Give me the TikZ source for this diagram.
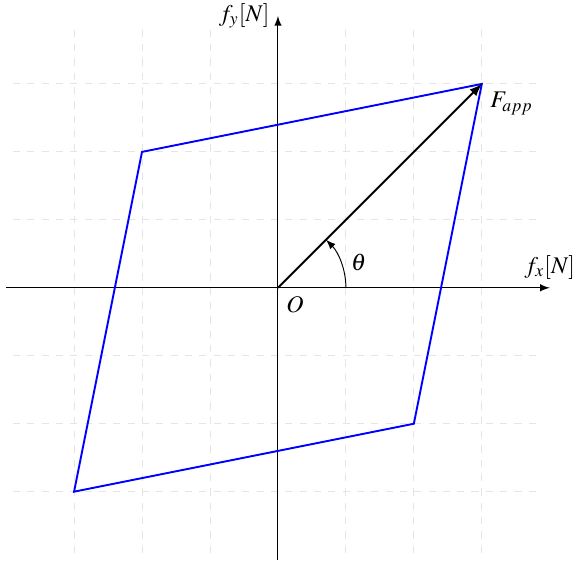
\documentclass[tikz,border=0pt]{standalone}
\usepackage{mathptmx}
\begin{document}
\begin{tikzpicture}[x=1cm,y=1cm,
  gridline/.style={gray!20, dashed},
  axisline/.style={black, -latex},
  polyline/.style={blue, thick, line join=miter},
  vecline/.style={black, thick, -latex},
  anglearc/.style={black, thin, -latex}]
\useasboundingbox (-4.09,-4.04) rectangle (4.43,4.235);
\draw[gridline] (-3.9,-3.9) grid (3.9,3.9);
\coordinate (O) at (0,0);
\coordinate (xs) at (-4,0);
\coordinate (xe) at (4,0);
\coordinate (ys) at (0,-4);
\coordinate (ye) at (0,4);
\draw[axisline] (xs) -- (xe) node[above] (fx) {$f_x[N]$};
\draw[axisline] (ys) -- (ye) node[left] (fy) {$f_y[N]$};
\coordinate (A) at (3,3);
\coordinate (B) at (-2,2);
\coordinate (C) at (-3,-3);
\coordinate (D) at (2,-2);
\draw[polyline] (A) -- (B) -- (C) -- (D) -- cycle;
\draw[vecline] (O) -- (A);
\node[below right] (Fapp) at (A) {$F_{app}$};
\node[below right] (Olab) at (O) {$O$};
\draw[anglearc] (1,0) arc[start angle=0, end angle=45, radius=1];
\node (th) at (1.19,0.37) {$\theta$};
\end{tikzpicture}
\end{document}
